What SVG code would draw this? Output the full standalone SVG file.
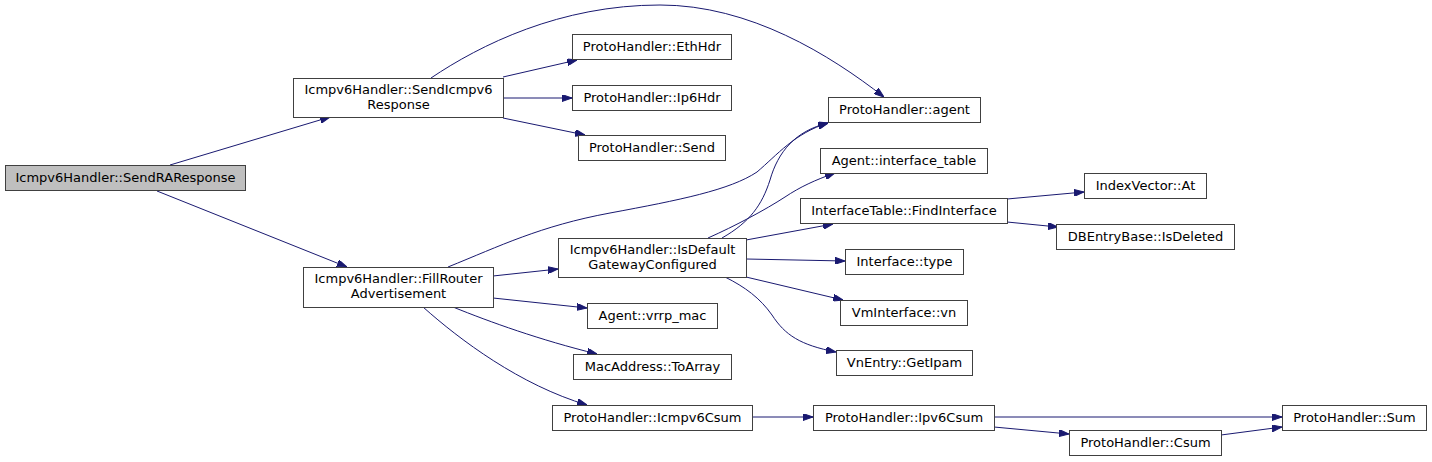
<svg xmlns="http://www.w3.org/2000/svg" width="1432" height="462" viewBox="0 0 1432 462">
<style>
.n rect{fill:#ffffff;stroke:#404040;stroke-width:1}
.n.hl rect{fill:#bfbfbf}
.n text{font-family:"DejaVu Sans",sans-serif;font-size:13px;fill:#000;text-anchor:middle}
#edges path{fill:none;stroke:#191970;stroke-width:1;marker-end:url(#ah)}
</style>
<defs>
<marker id="ah" viewBox="0 0 10 7" refX="10" refY="3.5" markerWidth="10" markerHeight="7" markerUnits="userSpaceOnUse" orient="auto">
<path d="M0,0 L10,3.5 L0,7 z" fill="#191970" stroke="#191970" stroke-width="1"/>
</marker>
</defs>
<rect width="1432" height="462" fill="#ffffff"/>
<g id="edges">
<path d="M170,165 L330,117"/>
<path d="M157,191 L347,267"/>
<path d="M503,77 L577,60"/>
<path d="M503,98 L572,98"/>
<path d="M503,118 L585,135"/>
<path d="M431,78 C480,45 560,5 660,5 C750,5 830,55 884,97"/>
<path d="M448,267 C500,246 540,226 610,213 C680,200 730,190 757,172 C777,155 795,133 828,123"/>
<path d="M493,276 L558,269"/>
<path d="M493,298 L587,308"/>
<path d="M453,307 C490,322 540,340 597,354"/>
<path d="M423,307 C460,340 520,385 587,405"/>
<path d="M722,238 C750,222 762,205 770,180 C778,152 795,131 828,123"/>
<path d="M708,238 C735,226 765,210 785,197 C800,187 815,180 835,173"/>
<path d="M746,240 L833,224"/>
<path d="M746,259 L845,261"/>
<path d="M746,277 L843,300"/>
<path d="M725,277 C745,287 760,298 772,315 C785,335 800,345 836,352"/>
<path d="M1007,199 L1084,192"/>
<path d="M1007,222 L1058,227"/>
<path d="M752,417 L813,417"/>
<path d="M994,417 L1282,417"/>
<path d="M994,427 L1069,434"/>
<path d="M1221,435 L1282,427"/>
</g>
<g id="n0" class="n hl"><rect x="5.5" y="165.5" width="240" height="25"/><text x="125.5" y="182">Icmpv6Handler::SendRAResponse</text></g>
<g id="n1" class="n"><rect x="293.5" y="78.5" width="210" height="39"/><text x="398.5" y="94">Icmpv6Handler::SendIcmpv6</text><text x="398.5" y="109">Response</text></g>
<g id="n2" class="n"><rect x="572.5" y="34.5" width="159" height="25"/><text x="652" y="51">ProtoHandler::EthHdr</text></g>
<g id="n3" class="n"><rect x="572.5" y="85.5" width="159" height="25"/><text x="652" y="102">ProtoHandler::Ip6Hdr</text></g>
<g id="n4" class="n"><rect x="578.5" y="135.5" width="147" height="25"/><text x="652" y="152">ProtoHandler::Send</text></g>
<g id="n5" class="n"><rect x="828.5" y="97.5" width="152" height="25"/><text x="904.5" y="114">ProtoHandler::agent</text></g>
<g id="n6" class="n"><rect x="820.5" y="148.5" width="167" height="25"/><text x="904" y="165">Agent::interface_table</text></g>
<g id="n7" class="n"><rect x="800.5" y="198.5" width="207" height="25"/><text x="904" y="215">InterfaceTable::FindInterface</text></g>
<g id="n8" class="n"><rect x="1084.5" y="173.5" width="122" height="25"/><text x="1145.5" y="190">IndexVector::At</text></g>
<g id="n9" class="n"><rect x="1056.5" y="224.5" width="178" height="25"/><text x="1145.5" y="241">DBEntryBase::IsDeleted</text></g>
<g id="n10" class="n"><rect x="845.5" y="249.5" width="118" height="25"/><text x="904.5" y="266">Interface::type</text></g>
<g id="n11" class="n"><rect x="840.5" y="300.5" width="127" height="25"/><text x="904" y="317">VmInterface::vn</text></g>
<g id="n12" class="n"><rect x="836.5" y="350.5" width="136" height="25"/><text x="904.5" y="367">VnEntry::GetIpam</text></g>
<g id="n13" class="n"><rect x="558.5" y="238.5" width="188" height="39"/><text x="652.5" y="254">Icmpv6Handler::IsDefault</text><text x="652.5" y="269">GatewayConfigured</text></g>
<g id="n14" class="n"><rect x="303.5" y="267.5" width="190" height="40"/><text x="398.5" y="283">Icmpv6Handler::FillRouter</text><text x="398.5" y="298">Advertisement</text></g>
<g id="n15" class="n"><rect x="587.5" y="303.5" width="130" height="25"/><text x="652.5" y="320">Agent::vrrp_mac</text></g>
<g id="n16" class="n"><rect x="573.5" y="354.5" width="158" height="25"/><text x="652.5" y="371">MacAddress::ToArray</text></g>
<g id="n17" class="n"><rect x="552.5" y="405.5" width="200" height="25"/><text x="652.5" y="422">ProtoHandler::Icmpv6Csum</text></g>
<g id="n18" class="n"><rect x="813.5" y="405.5" width="181" height="25"/><text x="904" y="422">ProtoHandler::Ipv6Csum</text></g>
<g id="n19" class="n"><rect x="1069.5" y="430.5" width="152" height="25"/><text x="1145.5" y="447">ProtoHandler::Csum</text></g>
<g id="n20" class="n"><rect x="1282.5" y="405.5" width="144" height="25"/><text x="1354.5" y="422">ProtoHandler::Sum</text></g>
</svg>
